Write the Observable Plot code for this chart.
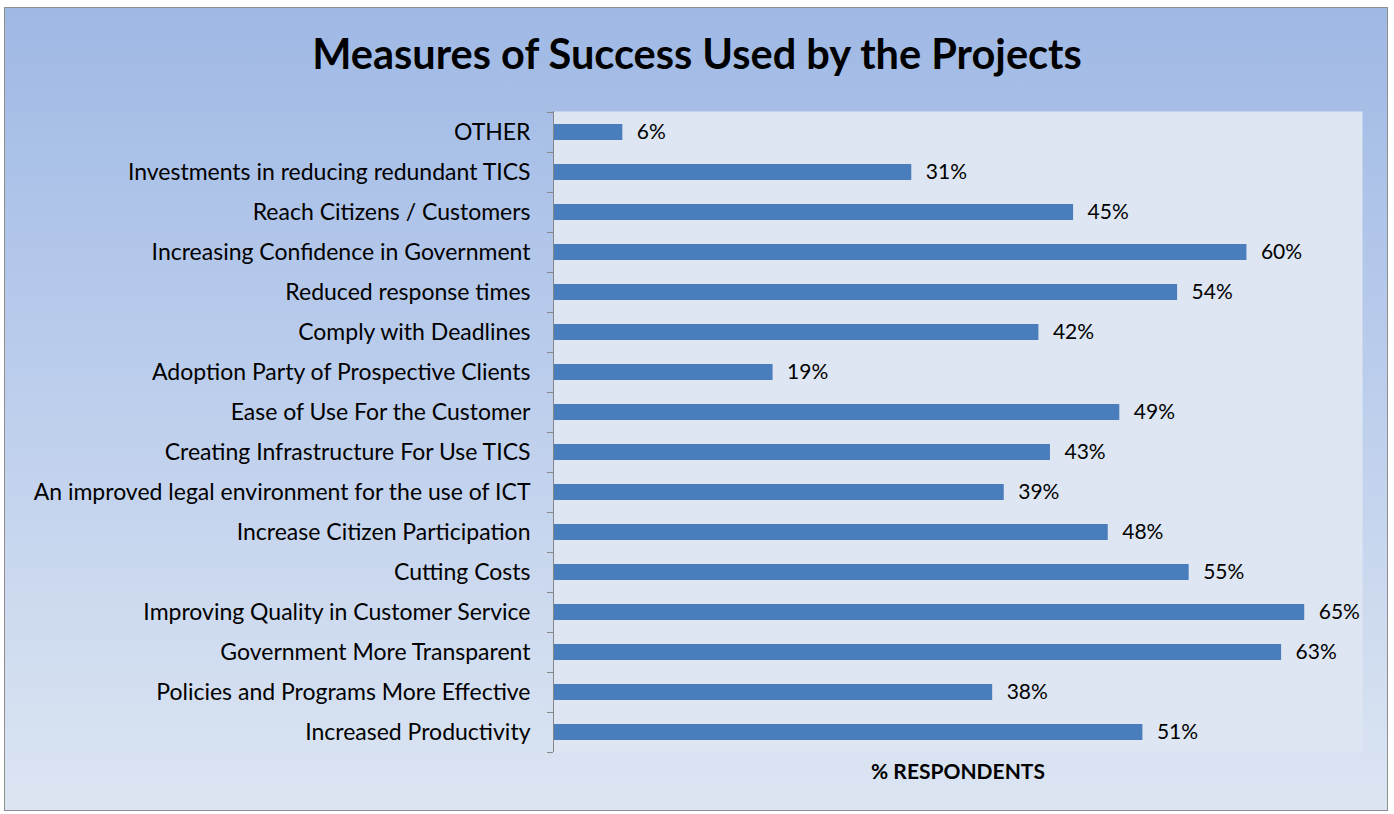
<!DOCTYPE html>
<html>
<head>
<meta charset="utf-8">
<script src="https://cdn.jsdelivr.net/npm/d3@7"></script>
<script src="https://cdn.jsdelivr.net/npm/@observablehq/plot@0.6"></script>
<style>
  html, body { margin: 0; padding: 0; background: #ffffff; }
  #page { position: relative; width: 1394px; height: 814px; overflow: hidden; }
  #bg {
    position: absolute; left: 4px; top: 7px; width: 1384px; height: 804px;
    box-sizing: border-box; border: 1px solid #8e8e8e;
    background: linear-gradient(to bottom, #9fb9e5 0%, #bbcdec 45%, #dce5f2 100%);
  }
  #content { position: relative; }
  #title {
    height: 106px; display: flex; align-items: center; justify-content: center;
    font-family: Lato, sans-serif; font-weight: bold; font-size: 41.5px; color: #000;
  }
  svg { display: block; }
</style>
</head>
<body>
<div id="page">
  <div id="bg"></div>
  <div id="content">
    <div id="title">Measures of Success Used by the Projects</div>
    <div id="chart"></div>
  </div>
</div>
<script>
const categories = [
  "OTHER",
  "Investments in reducing redundant TICS",
  "Reach Citizens / Customers",
  "Increasing Confidence in Government",
  "Reduced response times",
  "Comply with Deadlines",
  "Adoption Party of Prospective Clients",
  "Ease of Use For the Customer",
  "Creating Infrastructure For Use TICS",
  "An improved legal environment for the use of ICT",
  "Increase Citizen Participation",
  "Cutting Costs",
  "Improving Quality in Customer Service",
  "Government More Transparent",
  "Policies and Programs More Effective",
  "Increased Productivity"
];
const values = [6, 31, 45, 60, 54, 42, 19, 49, 43, 39, 48, 55, 65, 63, 38, 51];
const xDomain = [0, 70];
const axisLabel = "% RESPONDENTS";

const data = categories.map((c, i) => ({category: c, value: values[i]}));

const H = 708, MT = 5, MB = 62;
const step = (H - MT - MB) / categories.length;

const chart = Plot.plot({
  width: 1394,
  height: H,
  marginLeft: 553,
  marginRight: 32,
  marginTop: MT,
  marginBottom: MB,
  style: {background: "transparent", fontFamily: "Lato, sans-serif", fontSize: "23px", color: "#000"},
  x: {domain: xDomain, axis: null},
  y: {domain: categories, paddingInner: 0.6, paddingOuter: 0.3, tickSize: 0, tickPadding: 23, label: null},
  marks: [
    Plot.frame({fill: "#dde6f2", stroke: "none"}),
    Plot.barX(data, {x: "value", y: "category", fill: "#4a7dbb"}),
    Plot.text(data, {x: "value", y: "category", text: d => d.value + "%", textAnchor: "start", dx: 14, fontSize: 21, fill: "#000"}),
    Plot.ruleX([0], {stroke: "#868686", strokeWidth: 1}),
    Plot.ruleY(categories, {y: d => d, x1: 0, x2: 0, insetLeft: -6, dy: -step / 2, stroke: "#868686"}),
    Plot.ruleY(categories.slice(-1), {y: d => d, x1: 0, x2: 0, insetLeft: -6, dy: step / 2, stroke: "#868686"}),
    Plot.text([axisLabel], {text: d => d, frameAnchor: "bottom", dy: 26, fontWeight: "bold", fontSize: 21, fill: "#000"})
  ]
});
document.getElementById("chart").appendChild(chart);
</script>
</body>
</html>
